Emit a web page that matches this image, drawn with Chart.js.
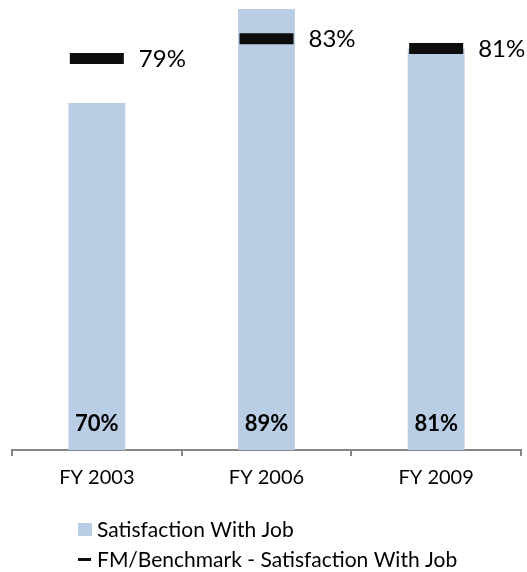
<!DOCTYPE html>
<html>
<head>
<meta charset="utf-8">
<script src="https://cdn.jsdelivr.net/npm/chart.js@4/dist/chart.umd.min.js"></script>
<style>
html,body{margin:0;padding:0;background:#fff;}
#wrap{width:527px;height:572px;position:relative;}
</style>
</head>
<body>
<div id="wrap"><canvas id="c" width="527" height="572"></canvas></div>
<script>
const categories = ["FY 2003", "FY 2006", "FY 2009"];
const satisfaction = [70, 89, 81];
const benchmark = [79, 83, 81];
const seriesNames = ["Satisfaction With Job", "FM/Benchmark - Satisfaction With Job"];

const BAR_COLOR = '#B9CDE5';
const MARK_COLOR = '#0D0D0D';
const AXIS_COLOR = '#868686';
const FONT = 'Lato, "Open Sans", sans-serif';

const labelPlugin = {
  id: 'labels',
  afterDatasetsDraw(chart) {
    const ctx = chart.ctx;
    const yScale = chart.scales.y;
    ctx.save();
    const barMeta = chart.getDatasetMeta(0);
    ctx.font = 'bold 22px ' + FONT;
    ctx.fillStyle = '#000';
    ctx.textAlign = 'center';
    ctx.textBaseline = 'middle';
    barMeta.data.forEach((el, i) => {
      ctx.fillText(satisfaction[i] + '%', el.x, yScale.getPixelForValue(0) - 26);
    });
    const lineMeta = chart.getDatasetMeta(1);
    ctx.font = '24px ' + FONT;
    ctx.textAlign = 'left';
    lineMeta.data.forEach((el, i) => {
      ctx.fillText(benchmark[i] + '%', el.x + 42, el.y + 1);
    });
    ctx.restore();
  },
  afterDraw(chart) {
    const ctx = chart.ctx;
    ctx.save();
    ctx.font = '21px ' + FONT;
    ctx.textBaseline = 'middle';
    ctx.textAlign = 'left';
    ctx.fillStyle = BAR_COLOR;
    ctx.fillRect(78, 523, 14, 13);
    ctx.fillStyle = '#000';
    ctx.fillText(seriesNames[0], 97, 530);
    ctx.fillStyle = MARK_COLOR;
    ctx.fillRect(78, 558, 13, 3);
    ctx.fillStyle = '#000';
    ctx.fillText(seriesNames[1], 97, 560);
    ctx.restore();
  }
};

new Chart(document.getElementById('c'), {
  data: {
    labels: categories,
    datasets: [
      {
        type: 'bar',
        label: seriesNames[0],
        data: satisfaction,
        backgroundColor: BAR_COLOR,
        borderWidth: 0,
        categoryPercentage: 1,
        barPercentage: 0.335,
        order: 2
      },
      {
        type: 'line',
        label: seriesNames[1],
        data: benchmark,
        showLine: false,
        clip: false,
        pointStyle: 'line',
        pointRadius: 27,
        pointHoverRadius: 27,
        pointBorderWidth: 11,
        pointBorderColor: MARK_COLOR,
        pointBackgroundColor: MARK_COLOR,
        order: 1
      }
    ]
  },
  options: {
    responsive: false,
    animation: false,
    events: [],
    layout: { autoPadding: false, padding: { top: 4, left: 12, right: 6, bottom: 72 } },
    plugins: { legend: { display: false }, tooltip: { enabled: false } },
    scales: {
      x: {
        offset: true,
        grid: {
          display: true,
          drawOnChartArea: false,
          drawTicks: true,
          tickLength: 6,
          offset: true,
          color: AXIS_COLOR,
          lineWidth: 2
        },
        border: { display: true, color: AXIS_COLOR, width: 2 },
        ticks: {
          color: '#000',
          font: { family: FONT, size: 20 },
          padding: 10,
          maxRotation: 0
        }
      },
      y: {
        display: false,
        min: 0,
        max: 90
      }
    }
  },
  plugins: [labelPlugin]
});
</script>
</body>
</html>
